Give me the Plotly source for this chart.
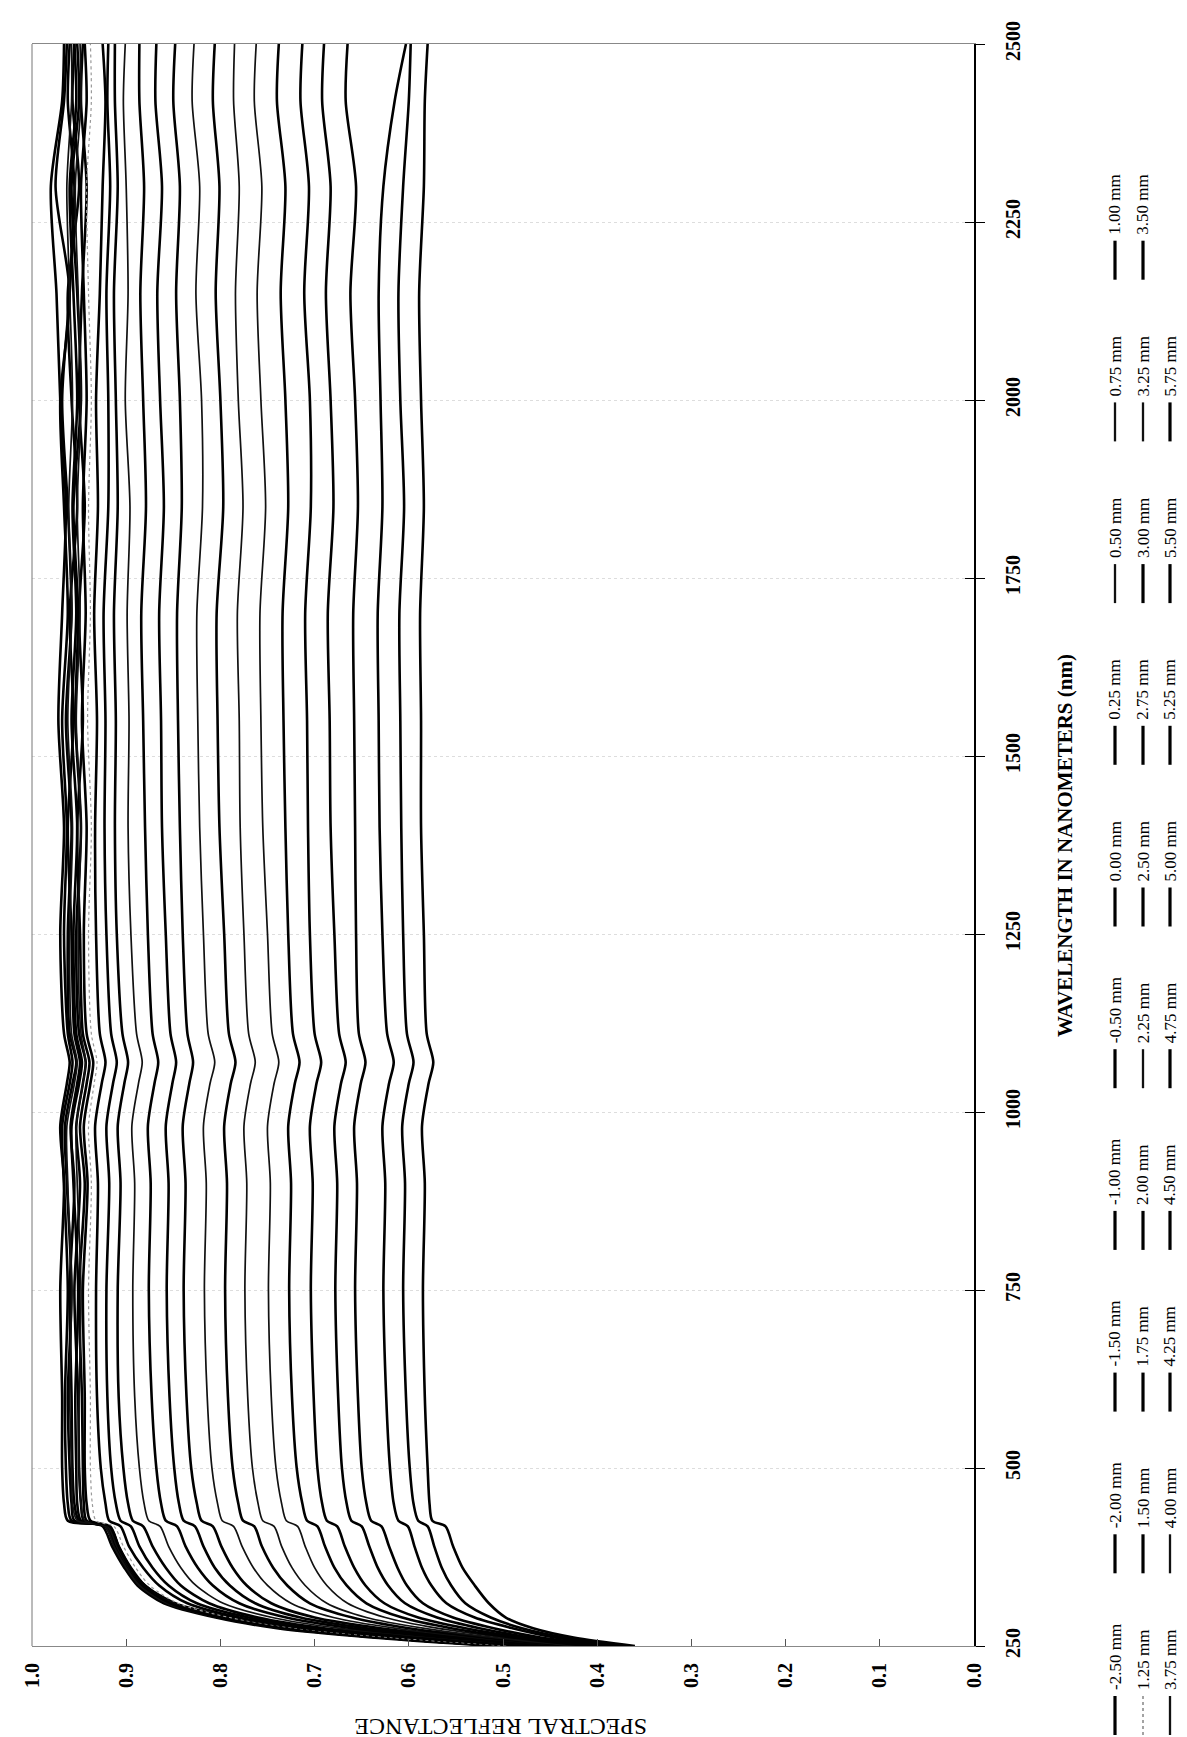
import plotly.graph_objects as go

# ---------------- data ----------------
wavelength_nm = [250, 262, 275, 290, 310, 335, 360, 390, 418, 426, 450, 500, 600, 750,
                 900, 980, 1040, 1070, 1110, 1250, 1400, 1550, 1700, 1850, 2000, 2150,
                 2300, 2420, 2500]

r_m2_50 = [0.50, 0.63, 0.73, 0.80, 0.855, 0.885, 0.90, 0.912, 0.922, 0.950, 0.955, 0.957, 0.958, 0.960, 0.955, 0.959, 0.952, 0.949, 0.955, 0.958, 0.962, 0.956, 0.960, 0.952, 0.958, 0.962, 0.950, 0.957, 0.955]
r_m2_00 = [0.49, 0.62, 0.72, 0.79, 0.85, 0.88, 0.897, 0.91, 0.92, 0.958, 0.962, 0.964, 0.965, 0.962, 0.966, 0.968, 0.960, 0.957, 0.962, 0.966, 0.963, 0.968, 0.962, 0.966, 0.970, 0.960, 0.975, 0.966, 0.963]
r_m1_50 = [0.51, 0.64, 0.74, 0.805, 0.86, 0.888, 0.902, 0.915, 0.925, 0.945, 0.948, 0.950, 0.951, 0.955, 0.949, 0.953, 0.946, 0.943, 0.950, 0.953, 0.948, 0.954, 0.951, 0.956, 0.948, 0.952, 0.958, 0.950, 0.952]
r_m1_00 = [0.48, 0.61, 0.72, 0.79, 0.848, 0.88, 0.895, 0.908, 0.918, 0.955, 0.958, 0.96, 0.962, 0.958, 0.963, 0.965, 0.957, 0.953, 0.96, 0.962, 0.958, 0.964, 0.958, 0.962, 0.968, 0.96, 0.955, 0.962, 0.960]
r_m0_50 = [0.50, 0.63, 0.735, 0.80, 0.855, 0.884, 0.898, 0.91, 0.92, 0.942, 0.945, 0.946, 0.947, 0.95, 0.944, 0.949, 0.942, 0.939, 0.946, 0.949, 0.952, 0.946, 0.95, 0.944, 0.95, 0.947, 0.942, 0.948, 0.946]
r_p0_00 = [0.49, 0.62, 0.725, 0.795, 0.852, 0.883, 0.898, 0.911, 0.921, 0.962, 0.966, 0.968, 0.968, 0.97, 0.966, 0.970, 0.963, 0.960, 0.966, 0.97, 0.966, 0.972, 0.968, 0.964, 0.97, 0.974, 0.98, 0.968, 0.966]
r_p0_25 = [0.50, 0.63, 0.73, 0.80, 0.856, 0.886, 0.9, 0.912, 0.922, 0.948, 0.952, 0.953, 0.954, 0.951, 0.956, 0.958, 0.950, 0.947, 0.953, 0.956, 0.952, 0.958, 0.953, 0.957, 0.952, 0.956, 0.96, 0.953, 0.955]
r_p0_50 = [0.49, 0.62, 0.72, 0.795, 0.85, 0.882, 0.897, 0.91, 0.92, 0.952, 0.957, 0.958, 0.96, 0.958, 0.962, 0.963, 0.955, 0.952, 0.958, 0.96, 0.957, 0.962, 0.958, 0.961, 0.957, 0.96, 0.963, 0.958, 0.958]
r_p0_75 = [0.50, 0.635, 0.735, 0.803, 0.857, 0.886, 0.9, 0.913, 0.922, 0.944, 0.948, 0.95, 0.95, 0.948, 0.952, 0.953, 0.946, 0.943, 0.948, 0.951, 0.948, 0.953, 0.949, 0.952, 0.948, 0.951, 0.954, 0.948, 0.949]
r_p1_00 = [0.50, 0.63, 0.73, 0.80, 0.853, 0.882, 0.896, 0.908, 0.917, 0.938, 0.942, 0.944, 0.944, 0.946, 0.941, 0.945, 0.938, 0.935, 0.942, 0.945, 0.942, 0.947, 0.943, 0.946, 0.942, 0.945, 0.948, 0.942, 0.944]
r_p1_25 = [0.49, 0.62, 0.72, 0.79, 0.845, 0.875, 0.89, 0.903, 0.913, 0.932, 0.936, 0.938, 0.938, 0.94, 0.937, 0.940, 0.934, 0.931, 0.937, 0.94, 0.937, 0.941, 0.938, 0.94, 0.937, 0.94, 0.942, 0.937, 0.938]
r_p1_50 = [0.47, 0.60, 0.71, 0.78, 0.835, 0.865, 0.882, 0.897, 0.906, 0.918, 0.922, 0.927, 0.931, 0.932, 0.930, 0.933, 0.926, 0.922, 0.928, 0.932, 0.933, 0.931, 0.934, 0.93, 0.932, 0.928, 0.925, 0.922, 0.925]
r_p1_75 = [0.46, 0.59, 0.70, 0.77, 0.825, 0.855, 0.872, 0.886, 0.895, 0.906, 0.911, 0.916, 0.92, 0.921, 0.918, 0.921, 0.914, 0.910, 0.916, 0.921, 0.923, 0.922, 0.924, 0.919, 0.919, 0.921, 0.917, 0.92, 0.919]
r_p2_00 = [0.46, 0.58, 0.69, 0.76, 0.812, 0.842, 0.858, 0.872, 0.882, 0.893, 0.898, 0.903, 0.908, 0.909, 0.906, 0.909, 0.902, 0.898, 0.904, 0.91, 0.912, 0.911, 0.913, 0.909, 0.911, 0.913, 0.909, 0.912, 0.912]
r_p2_25 = [0.45, 0.57, 0.675, 0.745, 0.797, 0.826, 0.842, 0.855, 0.864, 0.876, 0.881, 0.886, 0.891, 0.893, 0.891, 0.894, 0.887, 0.883, 0.889, 0.895, 0.898, 0.897, 0.899, 0.896, 0.901, 0.898, 0.9, 0.903, 0.901]
r_p2_50 = [0.45, 0.56, 0.66, 0.73, 0.78, 0.808, 0.824, 0.837, 0.846, 0.858, 0.863, 0.868, 0.873, 0.876, 0.874, 0.877, 0.870, 0.866, 0.872, 0.877, 0.88, 0.882, 0.884, 0.879, 0.882, 0.885, 0.881, 0.886, 0.886]
r_p2_75 = [0.44, 0.55, 0.645, 0.715, 0.763, 0.79, 0.806, 0.818, 0.827, 0.839, 0.844, 0.849, 0.854, 0.857, 0.855, 0.858, 0.851, 0.847, 0.853, 0.858, 0.862, 0.863, 0.865, 0.86, 0.864, 0.867, 0.862, 0.869, 0.868]
r_p3_00 = [0.44, 0.54, 0.63, 0.70, 0.746, 0.772, 0.787, 0.799, 0.808, 0.82, 0.825, 0.831, 0.836, 0.839, 0.837, 0.840, 0.833, 0.829, 0.835, 0.84, 0.843, 0.845, 0.846, 0.841, 0.843, 0.847, 0.843, 0.85, 0.848]
r_p3_25 = [0.43, 0.53, 0.615, 0.68, 0.725, 0.75, 0.765, 0.777, 0.786, 0.798, 0.803, 0.809, 0.814, 0.817, 0.815, 0.818, 0.811, 0.806, 0.813, 0.818, 0.822, 0.824, 0.825, 0.819, 0.82, 0.826, 0.822, 0.83, 0.828]
r_p3_50 = [0.43, 0.52, 0.60, 0.66, 0.705, 0.729, 0.744, 0.756, 0.764, 0.776, 0.781, 0.787, 0.792, 0.795, 0.793, 0.796, 0.789, 0.784, 0.791, 0.796, 0.801, 0.803, 0.804, 0.797, 0.8, 0.805, 0.801, 0.808, 0.806]
r_p3_75 = [0.42, 0.51, 0.585, 0.645, 0.687, 0.71, 0.724, 0.735, 0.743, 0.755, 0.76, 0.766, 0.771, 0.774, 0.772, 0.775, 0.768, 0.763, 0.770, 0.775, 0.779, 0.78, 0.782, 0.776, 0.781, 0.784, 0.78, 0.786, 0.785]
r_p4_00 = [0.42, 0.50, 0.57, 0.625, 0.665, 0.687, 0.70, 0.71, 0.718, 0.73, 0.735, 0.741, 0.746, 0.749, 0.747, 0.750, 0.743, 0.738, 0.745, 0.75, 0.755, 0.757, 0.758, 0.752, 0.757, 0.761, 0.756, 0.764, 0.762]
r_p4_25 = [0.41, 0.49, 0.555, 0.607, 0.645, 0.666, 0.679, 0.689, 0.697, 0.708, 0.713, 0.719, 0.724, 0.727, 0.725, 0.728, 0.721, 0.716, 0.723, 0.728, 0.731, 0.733, 0.734, 0.728, 0.731, 0.736, 0.731, 0.74, 0.738]
r_p4_50 = [0.40, 0.48, 0.54, 0.59, 0.626, 0.646, 0.658, 0.668, 0.676, 0.687, 0.692, 0.697, 0.701, 0.704, 0.702, 0.705, 0.698, 0.693, 0.700, 0.705, 0.707, 0.708, 0.71, 0.704, 0.705, 0.711, 0.706, 0.715, 0.713]
r_p4_75 = [0.39, 0.47, 0.525, 0.57, 0.604, 0.622, 0.633, 0.642, 0.65, 0.661, 0.666, 0.671, 0.675, 0.678, 0.676, 0.679, 0.672, 0.667, 0.674, 0.679, 0.683, 0.684, 0.686, 0.68, 0.683, 0.688, 0.683, 0.692, 0.69]
r_p5_00 = [0.385, 0.46, 0.51, 0.553, 0.585, 0.602, 0.612, 0.621, 0.629, 0.64, 0.645, 0.65, 0.654, 0.657, 0.655, 0.658, 0.651, 0.646, 0.653, 0.656, 0.657, 0.658, 0.659, 0.654, 0.657, 0.662, 0.656, 0.667, 0.665]
r_p5_25 = [0.375, 0.445, 0.49, 0.53, 0.56, 0.576, 0.586, 0.594, 0.601, 0.611, 0.616, 0.62, 0.624, 0.627, 0.625, 0.628, 0.621, 0.616, 0.623, 0.628, 0.631, 0.632, 0.633, 0.628, 0.63, 0.632, 0.627, 0.615, 0.603]
r_p5_50 = [0.37, 0.435, 0.48, 0.513, 0.54, 0.555, 0.565, 0.573, 0.58, 0.59, 0.595, 0.599, 0.603, 0.606, 0.604, 0.607, 0.600, 0.595, 0.602, 0.606, 0.608, 0.609, 0.61, 0.605, 0.609, 0.611, 0.606, 0.60, 0.598]
r_p5_75 = [0.36, 0.425, 0.468, 0.497, 0.515, 0.53, 0.543, 0.553, 0.561, 0.575, 0.578, 0.58, 0.583, 0.585, 0.583, 0.586, 0.579, 0.574, 0.581, 0.584, 0.587, 0.587, 0.588, 0.584, 0.587, 0.589, 0.584, 0.583, 0.58]

series_labels = ["-2.50 mm", "-2.00 mm", "-1.50 mm", "-1.00 mm", "-0.50 mm", "0.00 mm",
                 "0.25 mm", "0.50 mm", "0.75 mm", "1.00 mm",
                 "1.25 mm", "1.50 mm", "1.75 mm", "2.00 mm", "2.25 mm", "2.50 mm",
                 "2.75 mm", "3.00 mm", "3.25 mm", "3.50 mm",
                 "3.75 mm", "4.00 mm", "4.25 mm", "4.50 mm", "4.75 mm", "5.00 mm",
                 "5.25 mm", "5.50 mm", "5.75 mm"]
series_values = [r_m2_50, r_m2_00, r_m1_50, r_m1_00, r_m0_50, r_p0_00, r_p0_25, r_p0_50,
                 r_p0_75, r_p1_00, r_p1_25, r_p1_50, r_p1_75, r_p2_00, r_p2_25, r_p2_50,
                 r_p2_75, r_p3_00, r_p3_25, r_p3_50, r_p3_75, r_p4_00, r_p4_25, r_p4_50,
                 r_p4_75, r_p5_00, r_p5_25, r_p5_50, r_p5_75]

x_ticks = [0.0, 0.1, 0.2, 0.3, 0.4, 0.5, 0.6, 0.7, 0.8, 0.9, 1.0]
y_ticks = [250, 500, 750, 1000, 1250, 1500, 1750, 2000, 2250, 2500]

# ---------------- styles ----------------
thin_series = {"0.50 mm", "0.75 mm", "2.25 mm", "3.25 mm", "3.75 mm", "4.00 mm"}
gray_series = {"1.25 mm"}


def style_for(label):
    if label in gray_series:
        return dict(color="#9a9a9a", width=1.2, dash="dot")
    if label in thin_series:
        return dict(color="#111111", width=1.7, dash="solid")
    return dict(color="#000000", width=2.6, dash="solid")


W, H = 1187, 1737
PL, PR, PT, PB = 24, 966, 36, 1638
FONT = "Liberation Serif"


def px2paper(px, py):
    return (px - PL) / (PR - PL), (PB - py) / (PB - PT)


fig = go.Figure()
for lab, vals in zip(series_labels, series_values):
    st = style_for(lab)
    fig.add_trace(go.Scatter(
        x=vals, y=wavelength_nm, mode="lines", name=lab,
        line=dict(color=st["color"], width=st["width"], dash=st["dash"],
                  shape="spline", smoothing=0.8),
        hoverinfo="skip", showlegend=False))

# invisible trace so the overlay axis (inner tick marks) is drawn
fig.add_trace(go.Scatter(x=[None], y=[None], yaxis="y2", mode="lines",
                         showlegend=False, hoverinfo="skip"))

tickfont = dict(family=FONT, size=20, color="black", weight="bold")

fig.update_layout(
    width=W, height=H,
    margin=dict(l=PL, r=W - PR, t=PT, b=H - PB),
    paper_bgcolor="white", plot_bgcolor="white",
    showlegend=False,
    xaxis=dict(range=[1.0, 0.0], tickvals=x_ticks, tickformat=".1f", tickangle=-90,
               ticks="inside", ticklen=7, tickcolor="#555", tickwidth=1,
               showline=True, linecolor="#888", linewidth=1, mirror=True,
               showgrid=False, zeroline=False, tickfont=tickfont,
               ticklabelstandoff=8),
    yaxis=dict(range=[250, 2500], side="right", tickvals=y_ticks, tickangle=-90,
               ticks="outside", ticklen=9, tickcolor="black", tickwidth=1,
               showline=True, linecolor="black", linewidth=1.5,
               showgrid=True, gridcolor="#dddddd", gridwidth=1, griddash="dot",
               zeroline=False, tickfont=tickfont, ticklabelstandoff=11),
    yaxis2=dict(range=[250, 2500], overlaying="y", side="right", tickvals=y_ticks,
                ticks="inside", ticklen=9, tickcolor="black", tickwidth=1,
                showticklabels=False, showgrid=False, showline=False, zeroline=False),
)

shapes = []
# left border (thin)
shapes.append(dict(type="line", xref="paper", yref="paper", x0=0, x1=0, y0=0, y1=1,
                   line=dict(color="#777", width=1)))

annotations = []
# axis titles
ax, ay = px2paper(1057, 838)
annotations.append(dict(text="WAVELENGTH IN NANOMETERS (nm)", x=ax, y=ay, xref="paper",
                        yref="paper", showarrow=False, textangle=-90,
                        xanchor="center", yanchor="middle",
                        font=dict(family=FONT, size=21, color="black", weight="bold")))
ax, ay = px2paper(493, 1719)
annotations.append(dict(text="SPECTRAL REFLECTANCE", x=ax, y=ay, xref="paper",
                        yref="paper", showarrow=False, textangle=180,
                        xanchor="center", yanchor="middle",
                        font=dict(family=FONT, size=24, color="black")))

# custom rotated legend: 3 columns, entries stacked bottom -> top
legend_cols_px = [1107, 1135, 1162]
per_col = 10
for idx, lab in enumerate(series_labels):
    c, i = divmod(idx, per_col)
    cx = legend_cols_px[c]
    y_bot = 1727 - 161.7 * i
    y_top = y_bot - 39
    st = style_for(lab)
    x0, y0 = px2paper(cx, y_bot)
    x1, y1 = px2paper(cx, y_top)
    shapes.append(dict(type="line", xref="paper", yref="paper", x0=x0, x1=x1, y0=y0, y1=y1,
                       line=dict(color=st["color"], width=st["width"] + 0.6,
                                 dash=st["dash"])))
    tx, ty = px2paper(cx, y_top - 4)
    annotations.append(dict(text=lab, x=tx, y=ty, xref="paper", yref="paper",
                            showarrow=False, textangle=-90, xanchor="center",
                            yanchor="bottom",
                            font=dict(family=FONT, size=17, color="black")))

fig.update_layout(shapes=shapes, annotations=annotations)
fig.write_html("out.html")
